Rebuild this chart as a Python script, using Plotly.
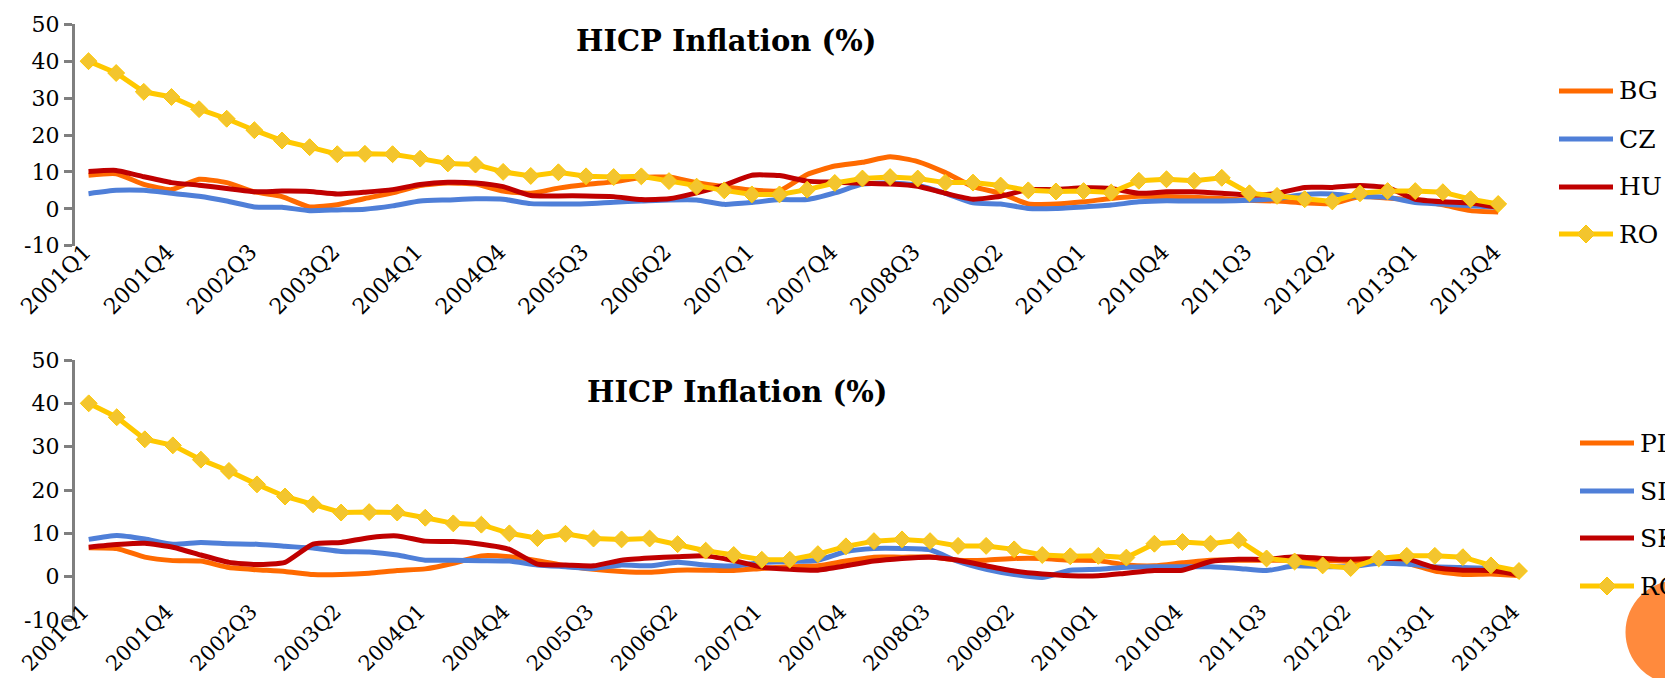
import plotly.graph_objects as go

# ---- data: quarterly HICP inflation (%) ----
quarters = [
    "2001Q1", "2001Q2", "2001Q3", "2001Q4", "2002Q1", "2002Q2", "2002Q3", "2002Q4",
    "2003Q1", "2003Q2", "2003Q3", "2003Q4", "2004Q1", "2004Q2", "2004Q3", "2004Q4",
    "2005Q1", "2005Q2", "2005Q3", "2005Q4", "2006Q1", "2006Q2", "2006Q3", "2006Q4",
    "2007Q1", "2007Q2", "2007Q3", "2007Q4", "2008Q1", "2008Q2", "2008Q3", "2008Q4",
    "2009Q1", "2009Q2", "2009Q3", "2009Q4", "2010Q1", "2010Q2", "2010Q3", "2010Q4",
    "2011Q1", "2011Q2", "2011Q3", "2011Q4", "2012Q1", "2012Q2", "2012Q3", "2012Q4",
    "2013Q1", "2013Q2", "2013Q3", "2013Q4",
]
tick_labels = quarters[::3]
y_ticks = [-10, 0, 10, 20, 30, 40, 50]
y_tick_text = ["-10", "0", "10", "20", "30", "40", "50"]

bg = [9.1, 9.5, 6.6, 5.2, 8.0, 7.1, 4.6, 3.3, 0.5, 1.1, 2.8, 4.3, 6.3, 7.0, 6.7, 4.8,
      4.2, 5.6, 6.6, 7.3, 8.5, 8.6, 7.1, 6.0, 5.1, 4.9, 9.3, 11.6, 12.6, 14.1, 12.8, 9.8,
      6.0, 4.2, 1.3, 1.3, 1.9, 2.8, 3.4, 3.3, 3.1, 2.8, 2.3, 2.1, 1.6, 1.4, 3.3, 2.9,
      2.3, 1.1, -0.5, -0.9]
cz = [4.1, 5.0, 5.0, 4.2, 3.4, 2.1, 0.5, 0.4, -0.5, -0.3, -0.1, 0.8, 2.1, 2.4, 2.7, 2.6,
      1.4, 1.3, 1.4, 1.8, 2.1, 2.4, 2.4, 1.2, 1.7, 2.5, 2.5, 4.3, 6.7, 7.0, 6.4, 4.2,
      1.6, 1.3, 0.1, 0.1, 0.5, 1.0, 1.9, 2.2, 2.1, 2.1, 2.3, 2.8, 3.9, 4.0, 3.3, 3.1,
      1.7, 1.3, 0.8, 0.4]
hu = [10.1, 10.4, 8.7, 7.1, 6.4, 5.5, 4.6, 4.8, 4.7, 4.0, 4.5, 5.2, 6.6, 7.2, 7.0, 6.0,
      3.6, 3.5, 3.5, 3.3, 2.5, 2.7, 4.3, 6.4, 9.1, 9.0, 7.5, 7.2, 6.9, 6.7, 6.1, 4.2,
      2.6, 3.4, 5.2, 5.2, 5.7, 5.5, 4.2, 4.6, 4.6, 4.2, 3.7, 4.2, 5.8, 5.8, 6.3, 5.7,
      2.6, 1.9, 1.6, 0.4]
ro = [40.0, 36.8, 31.7, 30.3, 27.0, 24.4, 21.3, 18.5, 16.7, 14.8, 14.9, 14.8, 13.6, 12.3, 12.0, 10.0,
      8.9, 9.9, 8.8, 8.6, 8.8, 7.5, 6.0, 5.0, 3.9, 3.9, 5.2, 7.0, 8.2, 8.6, 8.2, 7.1,
      7.1, 6.3, 5.0, 4.7, 4.8, 4.4, 7.6, 8.0, 7.6, 8.4, 4.2, 3.5, 2.6, 2.0, 4.2, 4.8,
      4.8, 4.5, 2.6, 1.3]
pl = [6.7, 6.5, 4.5, 3.7, 3.6, 2.1, 1.6, 1.2, 0.5, 0.5, 0.8, 1.4, 1.8, 3.1, 4.8, 4.6,
      3.7, 2.5, 1.7, 1.2, 1.0, 1.5, 1.5, 1.4, 1.9, 2.3, 2.5, 3.6, 4.5, 4.5, 4.6, 3.8,
      3.8, 4.2, 4.2, 3.8, 3.7, 2.7, 2.5, 3.2, 3.8, 3.8, 3.8, 3.8, 3.8, 3.5, 3.5, 3.1,
      1.3, 0.5, 0.6, 0.2]
si = [8.6, 9.5, 8.7, 7.5, 7.9, 7.6, 7.5, 7.0, 6.6, 5.8, 5.7, 5.0, 3.8, 3.8, 3.7, 3.6,
      2.7, 2.3, 1.9, 2.7, 2.5, 3.3, 2.7, 2.5, 3.3, 3.5, 3.8, 5.8, 6.5, 6.5, 6.2, 3.5,
      1.7, 0.5, -0.2, 1.5, 1.7, 2.2, 2.3, 2.3, 2.3, 1.9, 1.4, 2.5, 2.3, 2.3, 3.1, 2.9,
      2.3, 2.1, 1.9, 0.6]
sk = [6.8, 7.4, 7.7, 6.8, 5.0, 3.3, 2.8, 3.3, 7.5, 7.9, 9.0, 9.4, 8.2, 8.1, 7.5, 6.3,
      2.9, 2.7, 2.5, 3.8, 4.3, 4.6, 4.8, 3.7, 2.2, 1.7, 1.5, 2.5, 3.6, 4.2, 4.5, 3.8,
      2.5, 1.3, 0.6, 0.2, 0.2, 0.8, 1.4, 1.5, 3.5, 4.0, 4.0, 4.6, 4.2, 4.0, 4.2, 4.1,
      2.1, 1.5, 1.4, 0.4]

# ---- styling ----
ORANGE = "#FF6A00"
BLUE = "#4F7FD8"
DARKRED = "#C00000"
YELLOW = "#FFC800"
DIAMOND = "#F3C52E"
AXIS = "#7F7F7F"
FONT = "DejaVu Serif"

W, H = 1665, 678


def fx(px):
    return px / W


def fy(py):
    return 1 - py / H


fig = go.Figure()

panels = [
    dict(xa="x", xz="x2", ya="y",
         series=[("BG", bg, ORANGE), ("CZ", cz, BLUE), ("HU", hu, DARKRED)],
         left=74.7, right=1512, top=24.3, bottom=245.7,
         xlab_standoff=-12, xlab_shift=-4, xlab_size=22,
         leg_x=1559, leg_rows=[91, 139, 187, 234], title_xy=(726, 41)),
    dict(xa="x3", xz="x4", ya="y3",
         series=[("PL", pl, ORANGE), ("SI", si, BLUE), ("SK", sk, DARKRED)],
         left=74.7, right=1533, top=360, bottom=620,
         xlab_standoff=-26, xlab_shift=-6, xlab_size=21,
         leg_x=1580, leg_rows=[443, 491, 538, 586], title_xy=(737, 392)),
]

shapes = []
annotations = []

for p in panels:
    for name, vals, color in p["series"]:
        fig.add_trace(go.Scatter(
            x=quarters, y=vals, name=name, mode="lines",
            line=dict(color=color, width=5, shape="spline", smoothing=0.5),
            xaxis=p["xa"], yaxis=p["ya"], showlegend=False,
        ))
    fig.add_trace(go.Scatter(
        x=quarters, y=ro, name="RO", mode="lines+markers",
        line=dict(color=YELLOW, width=5),
        marker=dict(symbol="diamond", size=13, color=DIAMOND,
                    line=dict(color=YELLOW, width=1)),
        xaxis=p["xa"], yaxis=p["ya"], showlegend=False,
    ))

    x_dom = [fx(p["left"]), fx(p["right"])]
    y_dom = [fy(p["bottom"]), fy(p["top"])]
    # pixel row of the zero level inside this panel
    zero_py = p["bottom"] - (p["bottom"] - p["top"]) * 10 / 60

    xa_key = "xaxis" + p["xa"][1:]
    xz_key = "xaxis" + p["xz"][1:]
    ya_key = "yaxis" + p["ya"][1:]

    fig.layout[xa_key] = dict(
        domain=x_dom, anchor=p["ya"], type="category", automargin=False,
        categoryorder="array", categoryarray=quarters,
        range=[-0.5, len(quarters) - 0.5],
        tickmode="array", tickvals=tick_labels, ticktext=tick_labels,
        tickangle=-45, ticks="", showline=False, showgrid=False, zeroline=False,
        ticklabelstandoff=p["xlab_standoff"], ticklabelshift=p["xlab_shift"],
        tickfont=dict(family=FONT, size=p["xlab_size"], color="black"),
    )
    fig.layout[xz_key] = dict(
        overlaying=p["xa"], anchor="free", position=fy(zero_py), side="bottom",
        type="linear", range=[-0.5, len(quarters) - 0.5], automargin=False,
        tickmode="linear", tick0=-0.5, dtick=1,
        ticks="outside", ticklen=8, tickwidth=2.5, tickcolor=AXIS,
        showline=True, linecolor=AXIS, linewidth=2.5,
        showticklabels=False, showgrid=False, zeroline=False, layer="below traces",
    )
    fig.layout[ya_key] = dict(
        domain=y_dom, anchor=p["xa"], range=[-10, 50], automargin=False,
        tickmode="array", tickvals=y_ticks, ticktext=y_tick_text,
        ticks="outside", ticklen=8, tickwidth=2.5, tickcolor=AXIS,
        showline=True, linecolor=AXIS, linewidth=2.5,
        showgrid=False, zeroline=False, layer="below traces",
        ticklabelstandoff=0,
        tickfont=dict(family=FONT, size=22, color="black"),
    )

    # chart title
    annotations.append(dict(
        text="<b>HICP Inflation (%)</b>", xref="paper", yref="paper",
        x=fx(p["title_xy"][0]), y=fy(p["title_xy"][1]),
        xanchor="center", yanchor="middle", showarrow=False,
        font=dict(family=FONT, size=29, color="black"),
    ))

    # legend entries
    labels = [s[0] for s in p["series"]] + ["RO"]
    colors = [s[2] for s in p["series"]] + [YELLOW]
    x0, x1 = p["leg_x"], p["leg_x"] + 54
    for lab, col, row in zip(labels, colors, p["leg_rows"]):
        shapes.append(dict(type="line", xref="paper", yref="paper",
                           x0=fx(x0), x1=fx(x1), y0=fy(row), y1=fy(row),
                           line=dict(color=col, width=5)))
        if lab == "RO":
            cx, r = (x0 + x1) / 2, 9
            path = (f"M {fx(cx - r)},{fy(row)} L {fx(cx)},{fy(row - r)} "
                    f"L {fx(cx + r)},{fy(row)} L {fx(cx)},{fy(row + r)} Z")
            shapes.append(dict(type="path", xref="paper", yref="paper", path=path,
                               fillcolor=DIAMOND, line=dict(color=YELLOW, width=1)))
        annotations.append(dict(
            text=lab, xref="paper", yref="paper", x=fx(x1 + 4), y=fy(row),
            xanchor="left", yanchor="middle", showarrow=False,
            font=dict(family=FONT, size=25, color="black"),
        ))

# slide badge in the lower right corner
shapes.append(dict(type="circle", xref="paper", yref="paper",
                   x0=fx(1625.5), x1=fx(1729.7), y0=fy(684.4), y1=fy(580.2),
                   fillcolor="#FF8A3D", line=dict(width=0)))

fig.update_layout(
    width=W, height=H, margin=dict(l=0, r=0, t=0, b=0),
    paper_bgcolor="white", plot_bgcolor="white",
    shapes=shapes, annotations=annotations, showlegend=False,
)

fig.write_html("out.html")
